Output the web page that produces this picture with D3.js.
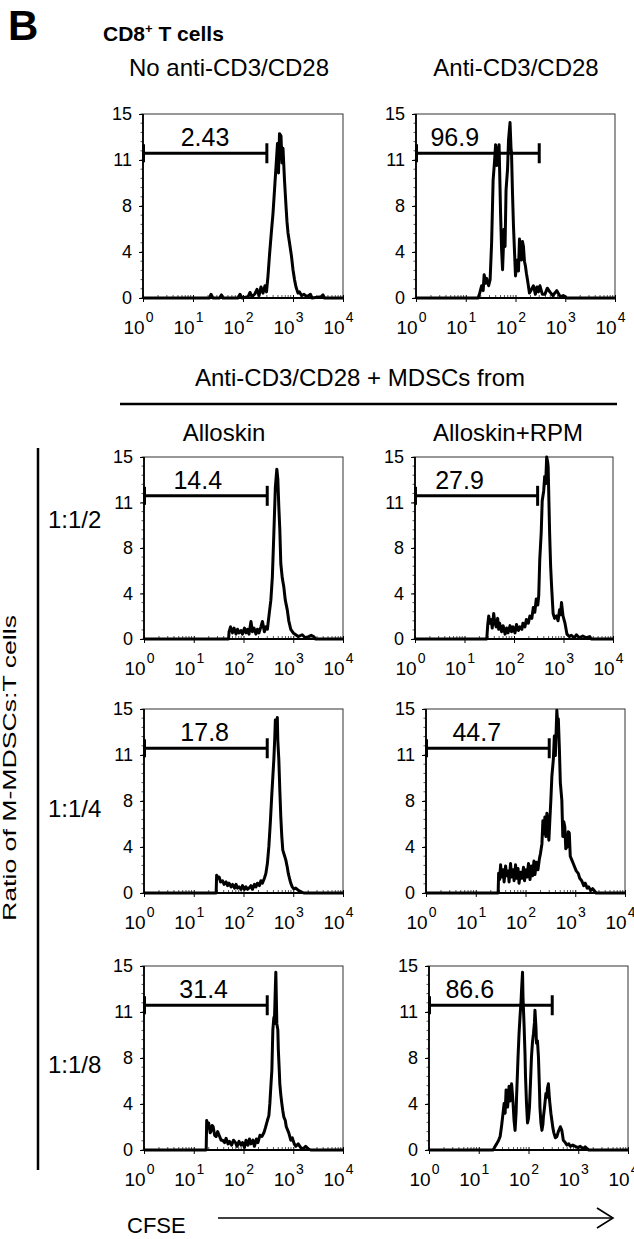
<!DOCTYPE html>
<html>
<head>
<meta charset="utf-8">
<script src="https://cdn.jsdelivr.net/npm/d3@7"></script>
<style>
  body { margin: 0; background: #fff; }
  text { font-family: "Liberation Sans", Arial, sans-serif; fill: #000; }
</style>
</head>
<body>
<div id="fig"></div>
<script>
// ---------- data ----------
var xTickExp = [0, 1, 2, 3, 4];
var yTickValues = [0, 3.75, 7.5, 11.25, 15];
var yTickLabels = ["0", "4", "8", "11", "15"];
var topTitles = ["No anti-CD3/CD28", "Anti-CD3/CD28"];
var mdscTitles = ["Alloskin", "Alloskin+RPM"];
var ratioLabels = ["1:1/2", "1:1/4", "1:1/8"];
var gatePercent = ["2.43", "96.9", "14.4", "27.9", "17.8", "44.7", "31.4", "86.6"];
var gateHigh = 300;        // upper CFSE bound of the divided-cell gate
var gateLevel = 11.8;      // count level the gate bar is drawn at
var gateLabelExp = [1.24, 0.78, 1.08, 0.9, 1.22, 1.02, 1.2, 0.82];

// histograms: [log10 CFSE, count]
var hNoStim = [[0,0],[1.2,0],[1.33,0],[1.36,0.3],[1.4,0],[1.53,0],[1.57,0.25],[1.6,0],[1.9,0],[1.94,0.3],[1.98,0],
  [2.1,0.1],[2.14,0.45],[2.18,0.1],[2.24,0.35],[2.28,0.7],[2.32,0.2],[2.36,0.9],[2.4,0.4],[2.44,1.0],[2.47,0.5],
  [2.5,1.8],[2.53,3.5],[2.57,5.5],[2.6,6.9],[2.63,8.8],[2.66,10.7],[2.69,12.6],[2.71,10.2],[2.73,13.4],[2.76,13.2],
  [2.78,11],[2.8,12.2],[2.83,9.6],[2.86,7.5],[2.88,6.2],[2.9,5.3],[2.93,4.5],[2.97,3.4],[3.0,2.3],[3.03,1.5],[3.06,0.9],
  [3.1,0.4],[3.13,0.5],[3.17,0.2],[3.22,0.3],[3.28,0.1],[3.35,0.3],[3.38,0],[3.56,0.1],[3.6,0.25],[3.63,0],[4,0]];
var hStim = [[0,0],[1.25,0],[1.28,0.4],[1.32,1.0],[1.35,0.6],[1.37,1.9],[1.4,1.2],[1.42,1.6],[1.46,1.0],[1.49,1.5],
  [1.52,4.5],[1.55,9.6],[1.58,11.2],[1.6,12.5],[1.62,10.8],[1.64,11.8],[1.67,12.5],[1.7,6.9],[1.72,4.0],[1.74,2.3],
  [1.77,5.6],[1.79,4.2],[1.81,8.8],[1.84,10.5],[1.86,12.9],[1.89,14.3],[1.91,12.2],[1.92,11.8],[1.94,8.5],[1.96,5.8],
  [2.0,1.8],[2.02,2.6],[2.04,3.1],[2.06,2.2],[2.08,4.8],[2.1,3.6],[2.12,3.1],[2.14,4.6],[2.16,4.2],[2.18,3.0],[2.2,2.6],
  [2.22,2.0],[2.24,1.5],[2.28,0.4],[2.32,0.7],[2.36,1.0],[2.4,0.3],[2.43,0.9],[2.46,0.5],[2.49,1.0],[2.54,0.3],[2.59,0.3],
  [2.64,0.8],[2.69,0.5],[2.75,0.2],[2.83,0.6],[2.9,0.1],[2.96,0.2],[3.03,0],[4,0]];
var hAllo2 = [[0,0],[1.7,0],[1.71,0.6],[1.74,1.0],[1.78,0.5],[1.81,0.9],[1.85,0.4],[1.88,0.8],[1.91,0.5],[1.95,0.7],
  [1.98,0.4],[2.02,0.9],[2.05,0.5],[2.08,0.8],[2.11,0.4],[2.15,1.45],[2.18,0.6],[2.21,0.9],[2.25,0.4],[2.28,0.8],
  [2.31,0.5],[2.35,1.0],[2.38,1.45],[2.42,0.6],[2.45,1.0],[2.48,0.8],[2.52,2.2],[2.55,3.2],[2.58,5.1],[2.61,8.7],
  [2.64,12.5],[2.67,14.0],[2.69,13.2],[2.71,10.9],[2.73,9.0],[2.75,6.2],[2.78,5.0],[2.81,4.3],[2.84,3.2],[2.88,2.4],
  [2.91,1.5],[2.95,0.8],[3.0,0.5],[3.05,0.35],[3.1,0.2],[3.18,0.35],[3.24,0.1],[3.31,0.2],[3.36,0.3],[3.41,0.2],[3.45,0],[4,0]];
var hRpm2 = [[0,0],[1.45,0],[1.47,1.2],[1.49,1.9],[1.51,1.3],[1.54,1.6],[1.56,0.9],[1.59,2.1],[1.61,1.4],[1.64,1.0],
  [1.67,1.7],[1.69,0.8],[1.71,1.3],[1.75,0.6],[1.78,1.1],[1.82,0.4],[1.85,0.9],[1.88,0.5],[1.92,1.1],[1.95,0.6],
  [1.98,1.0],[2.02,0.5],[2.05,1.2],[2.09,0.7],[2.12,1.0],[2.16,0.8],[2.18,1.3],[2.22,1.0],[2.25,1.6],[2.29,1.3],
  [2.32,1.9],[2.36,1.7],[2.39,2.6],[2.42,2.2],[2.45,3.3],[2.48,2.8],[2.5,3.6],[2.52,6.5],[2.55,8.8],[2.57,11.4],
  [2.6,12.2],[2.62,13.4],[2.64,12.8],[2.66,15],[2.68,14.6],[2.69,14.2],[2.71,10.5],[2.72,8.7],[2.74,6.0],[2.76,4.3],
  [2.79,2.1],[2.82,1.7],[2.86,1.9],[2.89,1.5],[2.92,2.4],[2.94,2.0],[2.96,3.0],[2.99,1.9],[3.03,1.3],[3.07,0.4],
  [3.12,0.2],[3.16,0.3],[3.22,0.1],[3.26,0.35],[3.32,0.1],[3.39,0.25],[3.46,0.1],[3.53,0.2],[3.56,0],[4,0]];
var hAllo4 = [[0,0],[1.45,0],[1.46,1.45],[1.49,1.2],[1.51,1.3],[1.54,0.9],[1.58,1.0],[1.61,0.7],[1.65,0.9],[1.68,0.6],
  [1.71,0.8],[1.75,0.5],[1.78,0.7],[1.82,0.4],[1.85,0.7],[1.88,0.4],[1.91,0.5],[1.95,0.3],[1.98,0.6],[2.02,0.3],
  [2.05,0.5],[2.08,0.3],[2.11,0.4],[2.15,0.6],[2.18,0.3],[2.22,0.7],[2.25,0.5],[2.28,0.8],[2.32,0.6],[2.35,1.0],
  [2.38,0.8],[2.42,1.2],[2.45,1.6],[2.48,2.4],[2.51,3.8],[2.54,5.8],[2.57,8.1],[2.59,9.5],[2.61,10.9],[2.63,12.8],
  [2.64,14.1],[2.66,13.5],[2.68,14.3],[2.69,12.4],[2.71,10.9],[2.73,8.4],[2.75,6.2],[2.77,4.6],[2.79,3.5],[2.82,3.1],
  [2.85,2.7],[2.88,2.1],[2.9,1.6],[2.93,1.1],[2.95,0.8],[2.98,0.5],[3.01,0.35],[3.05,0.4],[3.11,0.2],[3.16,0.1],[3.21,0],[4,0]];
var hRpm4 = [[0,0],[1.45,0],[1.46,1.6],[1.48,1.1],[1.5,2.3],[1.52,1.3],[1.55,1.9],[1.57,0.9],[1.6,2.2],[1.62,1.4],
  [1.65,1.8],[1.67,0.9],[1.7,2.4],[1.72,1.3],[1.75,1.9],[1.77,1.0],[1.8,2.3],[1.82,1.2],[1.85,2.0],[1.87,0.8],
  [1.9,1.7],[1.93,1.2],[1.96,2.1],[1.98,1.0],[2.01,1.9],[2.03,1.3],[2.06,2.4],[2.09,1.1],[2.12,2.2],[2.14,1.4],
  [2.17,2.6],[2.19,1.5],[2.22,2.5],[2.25,1.9],[2.28,2.8],[2.3,3.2],[2.33,4.0],[2.35,5.9],[2.37,4.8],[2.39,6.2],
  [2.41,4.6],[2.43,6.5],[2.45,5.4],[2.47,4.3],[2.49,6.0],[2.51,7.6],[2.53,9.5],[2.56,10.9],[2.58,12.8],[2.6,11.2],
  [2.63,14.9],[2.65,13.6],[2.66,14.2],[2.68,11.9],[2.7,9.0],[2.73,7.6],[2.75,4.6],[2.77,5.8],[2.79,5.4],[2.81,3.6],
  [2.84,3.8],[2.86,5.0],[2.88,4.9],[2.9,3.0],[2.93,2.7],[2.96,2.4],[2.99,2.1],[3.02,1.8],[3.06,1.6],[3.09,1.2],[3.13,1.0],
  [3.17,0.6],[3.2,0.8],[3.24,0.4],[3.27,0.5],[3.31,0.2],[3.35,0.35],[3.4,0.1],[3.42,0],[4,0]];
var hAllo8 = [[0,0],[1.25,0],[1.26,2.4],[1.28,1.8],[1.3,2.2],[1.33,1.4],[1.35,1.6],[1.37,2.0],[1.39,1.9],[1.42,1.2],
  [1.45,1.1],[1.48,1.5],[1.51,1.2],[1.55,0.8],[1.58,0.8],[1.62,0.6],[1.65,0.95],[1.69,0.5],[1.72,0.7],[1.76,0.4],
  [1.8,0.8],[1.84,0.6],[1.87,0.3],[1.91,0.7],[1.95,0.4],[1.98,0.6],[2.02,0.2],[2.05,0.8],[2.09,0.4],[2.12,0.9],
  [2.15,0.5],[2.19,0.8],[2.22,0.3],[2.26,0.9],[2.29,0.6],[2.33,1.2],[2.37,1.1],[2.41,1.4],[2.44,1.8],[2.48,2.4],
  [2.51,2.8],[2.53,3.8],[2.55,5.2],[2.57,6.5],[2.59,9.8],[2.61,10.8],[2.62,10.3],[2.64,13.2],[2.65,14.5],[2.67,10.3],
  [2.69,9.8],[2.7,8.2],[2.72,6.4],[2.73,5.4],[2.75,4.5],[2.77,3.8],[2.79,3.2],[2.81,2.7],[2.84,2.4],[2.86,1.9],
  [2.89,1.6],[2.91,1.4],[2.95,0.8],[2.98,1.0],[3.02,0.5],[3.05,0.3],[3.1,0.5],[3.15,0.2],[3.2,0.1],[3.25,0.3],[3.3,0.1],[3.35,0],[4,0]];
var hRpm8 = [[0,0],[1.29,0],[1.33,0.3],[1.36,0.5],[1.4,0.8],[1.43,1.1],[1.46,2.0],[1.48,2.7],[1.51,3.8],[1.53,3.0],
  [1.55,4.9],[1.57,4.3],[1.58,3.5],[1.6,4.6],[1.61,5.2],[1.63,4.0],[1.66,5.4],[1.68,4.4],[1.69,3.8],[1.71,2.4],
  [1.73,1.6],[1.75,3.0],[1.76,4.3],[1.79,7.6],[1.81,9.5],[1.83,10.9],[1.85,12.1],[1.86,13.0],[1.88,14.5],[1.89,12.4],
  [1.91,10.3],[1.93,7.8],[1.94,6.0],[1.96,3.8],[1.98,2.2],[2.0,2.6],[2.02,3.5],[2.04,5.5],[2.06,7.6],[2.08,8.8],
  [2.1,9.5],[2.12,10.4],[2.13,11.4],[2.15,10.0],[2.16,8.7],[2.18,8.9],[2.2,7.6],[2.22,5.0],[2.23,3.5],[2.25,2.2],
  [2.27,1.6],[2.29,2.1],[2.3,2.7],[2.32,3.4],[2.33,3.8],[2.35,4.6],[2.37,4.3],[2.38,5.0],[2.4,5.4],[2.42,4.2],
  [2.43,3.8],[2.45,3.0],[2.47,2.4],[2.49,1.8],[2.51,1.4],[2.54,1.0],[2.57,1.1],[2.6,1.5],[2.64,1.9],[2.67,1.6],
  [2.7,0.8],[2.74,0.6],[2.77,0.4],[2.81,0.5],[2.84,0.3],[2.89,0.4],[2.94,0.3],[3.0,0.2],[3.04,0.3],[3.1,0.1],
  [3.14,0.25],[3.18,0.1],[3.21,0],[4,0]];
var histograms = [hNoStim, hStim, hAllo2, hRpm2, hAllo4, hRpm4, hAllo8, hRpm8];

// ---------- layout ----------
var W = 634, H = 1239;
var panels = [
  {x: 143, y: 114, w: 200, h: 184},
  {x: 416, y: 114, w: 199, h: 184},
  {x: 144, y: 457, w: 199, h: 182},
  {x: 415, y: 457, w: 198, h: 182},
  {x: 144, y: 709, w: 199, h: 184},
  {x: 426, y: 709, w: 199, h: 184},
  {x: 144, y: 966, w: 199, h: 184},
  {x: 429, y: 966, w: 199, h: 184}
];

var svg = d3.select("#fig").append("svg")
  .attr("width", W).attr("height", H);

// panel letter + heading
svg.append("text").attr("x", 8).attr("y", 40)
  .attr("font-size", 42).attr("font-weight", "bold").text("B");
var hd = svg.append("text").attr("x", 103).attr("y", 41)
  .attr("font-size", 21).attr("font-weight", "bold");
hd.append("tspan").text("CD8");
hd.append("tspan").attr("font-size", 13).attr("dy", -8).text("+");
hd.append("tspan").attr("dy", 8).text(" T cells");

// column titles
var topTitleX = [229, 516];
topTitles.forEach(function(t, i){
  svg.append("text").attr("x", topTitleX[i]).attr("y", 76)
    .attr("text-anchor", "middle").attr("font-size", 24).text(t);
});
svg.append("text").attr("x", 360).attr("y", 386)
  .attr("text-anchor", "middle").attr("font-size", 24)
  .text("Anti-CD3/CD28 + MDSCs from");
svg.append("line").attr("x1", 120).attr("x2", 617).attr("y1", 404).attr("y2", 404)
  .attr("stroke", "#000").attr("stroke-width", 2.5);
var mdscTitleX = [224, 508];
mdscTitles.forEach(function(t, i){
  svg.append("text").attr("x", mdscTitleX[i]).attr("y", 441)
    .attr("text-anchor", "middle").attr("font-size", 24).text(t);
});

// ratio labels and side bracket
var ratioY = [528, 817, 1073];
ratioLabels.forEach(function(t, i){
  svg.append("text").attr("x", 48).attr("y", ratioY[i])
    .attr("font-size", 24).text(t);
});
svg.append("line").attr("x1", 38).attr("x2", 38).attr("y1", 448).attr("y2", 1170)
  .attr("stroke", "#000").attr("stroke-width", 2.5);
svg.append("text")
  .attr("transform", "translate(16,768) rotate(-90)")
  .attr("text-anchor", "middle").attr("font-size", 19)
  .attr("textLength", 306).attr("lengthAdjust", "spacingAndGlyphs")
  .text("Ratio of M-MDSCs:T cells");

// CFSE arrow
svg.append("text").attr("x", 127).attr("y", 1233).attr("font-size", 22).text("CFSE");
svg.append("line").attr("x1", 218).attr("x2", 612).attr("y1", 1218).attr("y2", 1218)
  .attr("stroke", "#000").attr("stroke-width", 1.6);
svg.append("path").attr("d", "M597,1208 L613,1218 L597,1228")
  .attr("fill", "none").attr("stroke", "#000").attr("stroke-width", 1.6);

// ---------- histogram panels ----------
var minorX = [];
for (var d = 0; d < 4; d++) for (var m = 2; m < 10; m++) minorX.push(m * Math.pow(10, d));
var minorY = d3.range(0, 15.01, 0.75);

panels.forEach(function(p, i){
  var x = d3.scaleLog().domain([1, 1e4]).range([0, p.w]);
  var y = d3.scaleLinear().domain([0, 15]).range([p.h, 0]);
  var g = svg.append("g").attr("transform", "translate(" + p.x + "," + p.y + ")");

  g.append("rect").attr("width", p.w).attr("height", p.h)
    .attr("fill", "none").attr("stroke", "#333").attr("stroke-width", 1);

  // minor ticks
  g.selectAll(".mx").data(minorX).enter().append("line")
    .attr("x1", function(v){ return x(v); }).attr("x2", function(v){ return x(v); })
    .attr("y1", p.h).attr("y2", p.h - 3)
    .attr("stroke", "#555").attr("stroke-width", 1);
  g.selectAll(".my").data(minorY).enter().append("line")
    .attr("x1", 0).attr("x2", -2.5)
    .attr("y1", function(v){ return y(v); }).attr("y2", function(v){ return y(v); })
    .attr("stroke", "#555").attr("stroke-width", 1);

  // y axis
  var ya = g.append("g")
    .call(d3.axisLeft(y).tickValues(yTickValues)
      .tickFormat(function(v, k){ return yTickLabels[k]; })
      .tickSize(4).tickPadding(7));
  ya.attr("font-size", 18);
  ya.select(".domain").remove();

  // x axis: decades with 10^n labels
  var xa = g.append("g").attr("transform", "translate(0," + p.h + ")")
    .call(d3.axisBottom(x).tickValues(xTickExp.map(function(e){ return Math.pow(10, e); }))
      .tickFormat("").tickSize(4));
  xa.select(".domain").remove();
  xa.selectAll(".tick line").attr("y1", -3);
  xa.selectAll(".tick").each(function(v, k){
    var t = d3.select(this).append("text")
      .attr("x", -20).attr("y", 36).attr("text-anchor", "start")
      .attr("font-size", 19);
    t.append("tspan").text("10");
    t.append("tspan").attr("dx", 1).attr("dy", -12).attr("font-size", 14).text(xTickExp[k]);
  });

  // axis lines
  g.append("line").attr("x1", 0).attr("x2", p.w).attr("y1", p.h).attr("y2", p.h)
    .attr("stroke", "#000").attr("stroke-width", 1.8);
  g.append("line").attr("x1", 0).attr("x2", 0).attr("y1", 0).attr("y2", p.h)
    .attr("stroke", "#000").attr("stroke-width", 1.8);

  // histogram trace
  var line = d3.line()
    .x(function(d){ return x(Math.pow(10, d[0])); })
    .y(function(d){ return y(d[1]); });
  g.append("path").datum(histograms[i]).attr("d", line)
    .attr("fill", "none").attr("stroke", "#000").attr("stroke-width", 3)
    .attr("stroke-linejoin", "round");

  // gate bar
  var gy = y(gateLevel), gx = x(gateHigh);
  g.append("line").attr("x1", 0).attr("x2", gx).attr("y1", gy).attr("y2", gy)
    .attr("stroke", "#000").attr("stroke-width", 3);
  g.append("line").attr("x1", gx).attr("x2", gx).attr("y1", gy - 10).attr("y2", gy + 10)
    .attr("stroke", "#000").attr("stroke-width", 3);
  g.append("line").attr("x1", 0.5).attr("x2", 0.5).attr("y1", gy - 9).attr("y2", gy + 9)
    .attr("stroke", "#000").attr("stroke-width", 3);
  g.append("text").attr("x", x(Math.pow(10, gateLabelExp[i]))).attr("y", gy - 7)
    .attr("text-anchor", "middle").attr("font-size", 25).text(gatePercent[i]);
});
</script>
</body>
</html>
